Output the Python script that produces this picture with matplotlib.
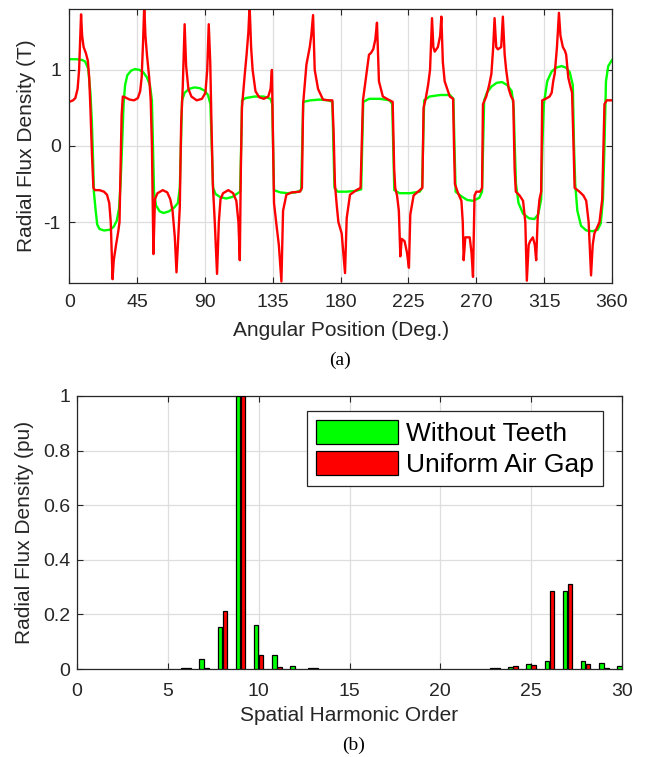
import matplotlib
matplotlib.use("Agg")
import matplotlib.pyplot as plt
import numpy as np

plt.rcParams['font.family'] = ['Liberation Sans', 'DejaVu Sans']
plt.rcParams['axes.unicode_minus'] = False

# ---------------- Data (a): radial flux density vs angular position ----------------
green_deg = [0, 5, 8.5, 10.5, 12.5, 14, 15, 15.8, 16.3, 17.5, 18.5, 20, 23, 27, 29.5, 31.5, 33, 34, 35, 36, 37, 38.5,
             41, 43.5, 46.5, 49, 51.5, 53.5, 54.8, 55.5, 56.2, 57.5, 60, 62.5, 66, 69.5, 72, 73.3, 74, 74.8, 76.5,
             79.5, 83, 86.5, 89.5, 92, 93.6, 94.5, 95.4, 97, 100, 104, 108, 111, 113.3, 114, 114.6, 117, 123, 129,
             133.5, 134.6, 135.2, 135.8, 140, 145, 150, 153.8, 154.5, 155.2, 160, 166, 172, 174.5, 175.2, 175.9,
             178, 184, 190, 193.6, 194.3, 195, 199, 206, 212.5, 214.2, 214.9, 215.6, 219, 226, 232.5, 234, 234.7,
             235.4, 239, 246, 252.5, 254.8, 255.5, 256.3, 260, 264, 268, 272, 273.8, 274.5, 275.2, 277, 280, 283.5,
             287, 290.5, 293.5, 294.8, 295.5, 296.3, 298, 301, 305, 308.5, 311, 313, 313.8, 314.8, 317, 320, 323,
             326.5, 329.5, 332, 334, 334.8, 335.6, 337, 339.5, 343, 347, 350.5, 352.5, 354, 355, 356, 357.5, 360]
green_val = [1.14, 1.14, 1.13, 1.11, 1.02, 0.7, 0.3, -0.2, -0.6, -0.85, -1.03, -1.09, -1.11, -1.1, -1.06, -0.98,
             -0.82, -0.5, 0.0, 0.55, 0.8, 0.93, 0.99, 1.01, 1.0, 0.97, 0.9, 0.8, 0.6, 0.0, -0.6, -0.78, -0.86,
             -0.88, -0.86, -0.81, -0.75, -0.55, 0.0, 0.6, 0.7, 0.75, 0.77, 0.76, 0.73, 0.67, 0.55, 0.0, -0.55,
             -0.63, -0.67, -0.69, -0.67, -0.63, -0.6, 0.0, 0.6, 0.63, 0.65, 0.65, 0.62, 0.55, 0.0, -0.58, -0.61,
             -0.62, -0.61, -0.58, 0.0, 0.58, 0.6, 0.61, 0.6, 0.58, 0.0, -0.55, -0.6, -0.6, -0.59, -0.57, 0.0, 0.58,
             0.62, 0.62, 0.6, 0.55, 0.0, -0.58, -0.62, -0.62, -0.6, -0.55, 0.0, 0.6, 0.65, 0.67, 0.67, 0.62, 0.0,
             -0.6, -0.66, -0.71, -0.72, -0.68, -0.6, 0.0, 0.6, 0.7, 0.78, 0.83, 0.84, 0.8, 0.72, 0.5, 0.0, -0.5,
             -0.75, -0.89, -0.95, -0.96, -0.9, -0.7, 0.0, 0.55, 0.85, 0.98, 1.03, 1.05, 1.03, 0.97, 0.8, 0.0, -0.5,
             -0.85, -1.05, -1.11, -1.12, -1.1, -1.02, -0.7, 0.0, 0.85, 1.05, 1.13]

red_deg = [0, 2.5, 4, 5.5, 6.5, 7.2, 7.8, 8.5, 9.5, 11, 12.3, 13.2, 14, 15, 16, 17, 20, 23, 25, 26.5, 27.5, 28.7,
           29.5, 31, 32.5, 33.3, 34, 34.7, 35.5, 37, 40, 43, 45.5, 47, 48, 49, 49.7, 50.5, 51.5, 53, 54, 54.8, 55.8,
           56.8, 58.5, 62, 65, 67, 68.5, 70, 71.1, 72.3, 73.3, 74.2, 75.3, 76.5, 77.5, 79, 81, 84.5, 88, 90.3, 91.5,
           92.5, 93.5, 94.3, 95.2, 96.5, 98, 99.2, 100.3, 102, 105.5, 108.7, 110.8, 112.2, 113.1, 113.8, 114.5,
           116.3, 117.6, 118.8, 119.6, 120.6, 121.6, 123.5, 126, 129, 132, 133.5, 134.4, 135.2, 135.8, 137.5, 139,
           140.7, 141.8, 144, 147.5, 153, 154.3, 155.1, 157.3, 159.5, 160.5, 161.7, 162.8, 165, 168.3, 172, 174.5,
           175.3, 176.2, 177.5, 178.5, 180.7, 182.9, 184, 186.2, 190.4, 193.2, 194, 194.8, 197, 198.8, 200, 201.6,
           203, 204.1, 205.4, 208, 212.5, 214.5, 215.5, 216.2, 217.4, 218.6, 219.6, 220.5, 222.4, 224, 225.3, 226.2,
           228.4, 232.4, 234.2, 235, 236.4, 238, 239.3, 240.6, 241.5, 242.4, 244.5, 246, 246.8, 247.8, 249, 252.4,
           254.6, 255.2, 255.8, 257.9, 260.1, 261, 261.6, 262.7, 265.6, 266.8, 267.8, 268.8, 270, 272.5, 273.8,
           274.4, 276.6, 278.5, 280, 281.2, 282.1, 283.2, 284.3, 286.5, 287.6, 288.8, 289.8, 291.5, 293.1, 294.5,
           295.4, 296.2, 298.7, 301, 302.5, 303.5, 304.7, 305.7, 307.5, 308.8, 309.7, 310.7, 311.9, 313, 313.7,
           316, 318.6, 320, 321, 322, 323.5, 324.8, 325.8, 327.4, 328.8, 329.6, 331, 332.2, 333.5, 334.5, 335.2,
           338.4, 341, 342.9, 344.5, 346.1, 347.2, 348.3, 351.7, 353.5, 354.3, 355, 356.5, 358.3, 360]
red_val = [0.58, 0.6, 0.63, 0.75, 1.0, 1.4, 1.73, 1.45, 1.3, 1.22, 1.12, 0.9, 0.5, -0.1, -0.55, -0.58, -0.58, -0.6,
           -0.64, -0.75, -1.0, -1.75, -1.5, -1.3, -1.12, -1.0, -0.3, 0.4, 0.65, 0.64, 0.61, 0.6, 0.63, 0.72, 0.9,
           1.4, 1.85, 1.45, 1.2, 0.9, 0.6, 0.0, -1.42, -0.7, -0.62, -0.58, -0.61, -0.7, -0.85, -1.2, -1.66, -1.2,
           -0.8, 0.3, 0.8, 1.6, 1.05, 0.75, 0.65, 0.6, 0.62, 0.7, 1.0, 1.6, 1.1, 0.3, -0.5, -1.0, -1.68, -1.0, -0.7,
           -0.62, -0.58, -0.62, -0.72, -1.0, -1.5, -0.3, 0.5, 0.92, 1.2, 1.5, 1.85, 1.3, 1.0, 0.72, 0.64, 0.62,
           0.65, 0.75, 1.0, 0.0, -0.75, -1.05, -1.3, -1.78, -0.85, -0.64, -0.61, -0.6, -0.55, 0.55, 1.07, 1.3,
           1.45, 1.72, 1.0, 0.75, 0.61, 0.6, 0.6, 0.2, -0.5, -0.8, -1.0, -1.15, -1.67, -0.95, -0.64, -0.58, -0.55,
           0.0, 0.6, 0.93, 1.2, 1.22, 1.27, 1.4, 1.62, 0.85, 0.65, 0.6, 0.58, -0.3, -0.55, -0.65, -0.85, -1.45,
           -1.22, -1.25, -1.4, -1.6, -0.9, -0.65, -0.58, -0.55, 0.5, 0.62, 0.8, 1.0, 1.68, 1.3, 1.24, 1.3, 1.45,
           1.7, 1.1, 0.85, 0.65, 0.62, 0.0, -0.5, -0.62, -0.72, -1.0, -1.5, -1.2, -1.2, -1.4, -1.72, -0.65, -0.6,
           -0.6, -0.55, 0.55, 0.65, 0.8, 0.95, 1.3, 1.68, 1.3, 1.27, 1.3, 1.7, 1.2, 1.0, 0.75, 0.65, 0.6, -0.3,
           -0.6, -0.65, -0.72, -1.0, -1.77, -1.3, -1.25, -1.2, -1.3, -1.5, -0.95, -0.7, -0.6, 0.6, 0.62, 0.65, 0.7,
           0.85, 0.95, 1.3, 1.75, 1.45, 1.3, 1.25, 1.2, 0.9, 0.8, 0.7, 0.0, -0.55, -0.6, -0.65, -0.72, -1.0, -1.7,
           -1.3, -1.15, -1.0, -0.7, 0.0, 0.55, 0.6, 0.6, 0.6]

# ---------------- Data (b): harmonic spectrum ----------------
harmonic_order = list(range(1, 31))
without_teeth = [0, 0, 0, 0, 0, 0.004, 0.037, 0.153, 1.0, 0.161, 0.05, 0.012, 0.002, 0, 0, 0, 0, 0, 0, 0, 0, 0,
                 0.002, 0.009, 0.018, 0.030, 0.287, 0.031, 0.021, 0.010]
uniform_air_gap = [0, 0, 0, 0, 0, 0.003, 0.005, 0.214, 1.0, 0.051, 0.006, 0.0, 0.002, 0, 0, 0, 0, 0, 0, 0, 0, 0,
                   0.002, 0.011, 0.013, 0.287, 0.313, 0.018, 0.005, 0.0]
series_labels = ["Without Teeth", "Uniform Air Gap"]

GREEN = '#00FF00'
RED = '#FF0000'
DARK = '#262626'
GRID = '#dedede'

fig = plt.figure(figsize=(6.47, 7.57), dpi=100)

def style_axes(ax, xpad, ypad):
    ax.tick_params(direction='in', top=True, right=True, length=4, width=0.8, colors=DARK,
                   labelsize=14, labelcolor=DARK)
    ax.tick_params(axis='x', pad=xpad)
    ax.tick_params(axis='y', pad=ypad)
    for s in ax.spines.values():
        s.set_color(DARK)
        s.set_linewidth(0.9)
    ax.grid(True, color=GRID, linewidth=0.9)
    ax.set_axisbelow(True)

# ---- (a)
ax1 = fig.add_axes([69.3/647, 1-283/757, (612-69.3)/647, (283-9)/757])
ax1.plot(green_deg, green_val, color=GREEN, lw=1.7)
ax1.plot(red_deg, red_val, color=RED, lw=1.7)
ax1.set_xlim(0, 360)
ax1.set_ylim(-1.8, 1.8)
ax1.set_xticks(np.arange(0, 361, 45))
ax1.set_yticks([-1, 0, 1])
style_axes(ax1, 8, 6)
ax1.set_xlabel('Angular Position (Deg.)', fontsize=15, color=DARK)
ax1.set_ylabel('Radial Flux Density (T)', fontsize=15, color=DARK)
ax1.xaxis.set_label_coords(0.5, -0.14)
ax1.yaxis.set_label_coords(-0.062, 0.5)
fig.text(340/647, 1-360/757, '(a)', fontsize=14, family=['Liberation Serif', 'DejaVu Serif'],
         ha='center', va='center')

# ---- (b)
ax2 = fig.add_axes([77/647, 1-669/757, (622-77)/647, (669-396)/757])
x = np.array(harmonic_order, dtype=float)
g = np.array(without_teeth)
r = np.array(uniform_air_gap)
w = 0.25
gm = g > 0
rm = r > 0
ax2.bar(x[gm] - 0.135, g[gm], width=w, color=GREEN, edgecolor='black', linewidth=0.9,
        label=series_labels[0], zorder=3)
ax2.bar(x[rm] + 0.135, r[rm], width=w, color=RED, edgecolor='black', linewidth=0.9,
        label=series_labels[1], zorder=3)
ax2.set_xlim(0, 30)
ax2.set_ylim(0, 1)
ax2.set_xticks(np.arange(0, 31, 5))
ax2.set_yticks([0, 0.2, 0.4, 0.6, 0.8, 1])
ax2.set_yticklabels(['0', '0.2', '0.4', '0.6', '0.8', '1'])
style_axes(ax2, 10, 5)
ax2.set_xlabel('Spatial Harmonic Order', fontsize=15, color=DARK)
ax2.set_ylabel('Radial Flux Density (pu)', fontsize=15, color=DARK)
ax2.xaxis.set_label_coords(0.5, -0.137)
ax2.yaxis.set_label_coords(-0.079, 0.5)
leg = ax2.legend(loc='upper right', bbox_to_anchor=(0.965, 0.945), fontsize=19, frameon=True,
                 fancybox=False, edgecolor=DARK, framealpha=1, handlelength=3.1, handleheight=1.0,
                 borderpad=0.35, labelspacing=0.2, handletextpad=0.3, borderaxespad=0)
leg.get_frame().set_linewidth(0.9)
fig.text(354/647, 1-745/757, '(b)', fontsize=14, family=['Liberation Serif', 'DejaVu Serif'],
         ha='center', va='center')

fig.savefig('out.png', dpi=100)
